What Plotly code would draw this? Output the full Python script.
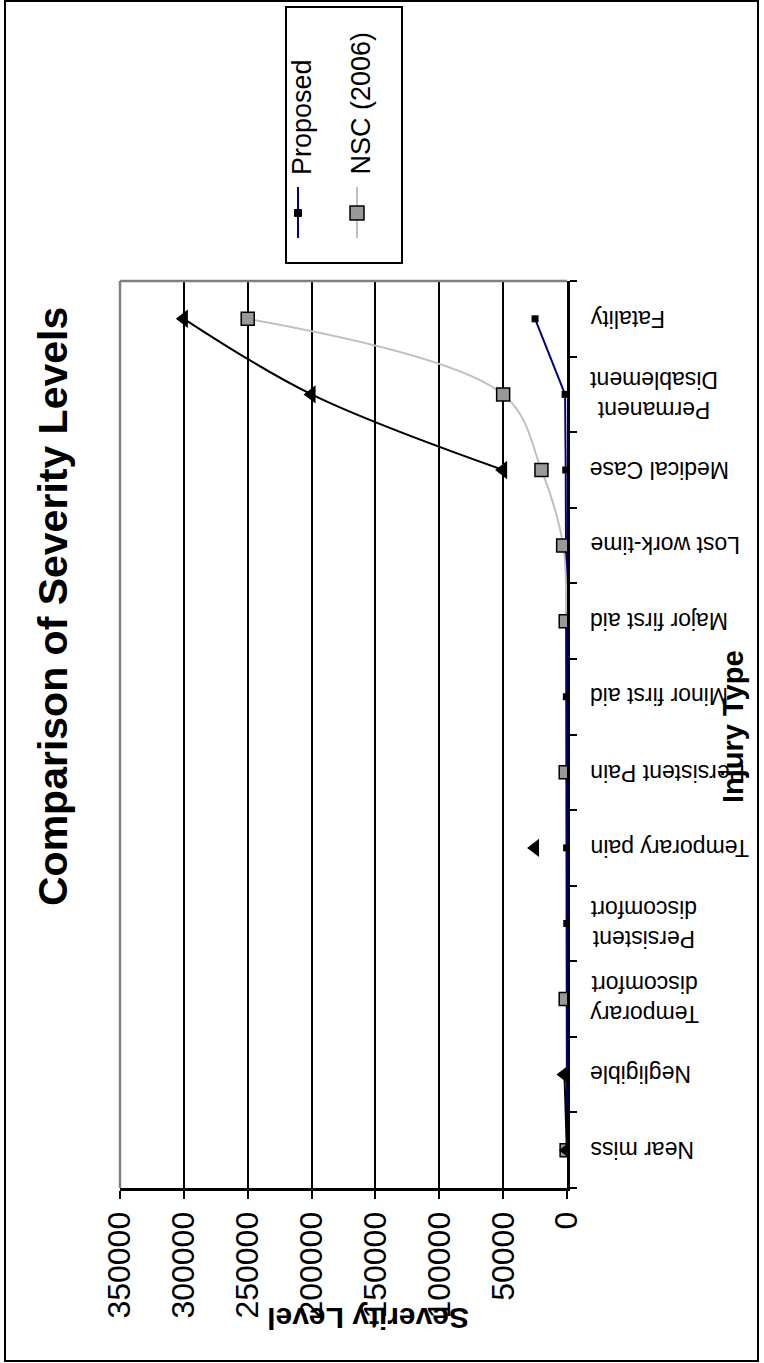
import plotly.graph_objects as go

# ---------------- data ----------------
categories = ["Near miss", "Negligible", "Temporary discomfort", "Persistent discomfort",
              "Temporary pain", "Persistent Pain", "Minor first aid", "Major first aid",
              "Lost work-time", "Medical Case", "Permanent Disablement", "Fatality"]
category_labels = ["Near miss", "Negligible", "Temporary<br>discomfort", "Persistent<br>discomfort",
                   "Temporary pain", "Persistent Pain", "Minor first aid", "Major first aid",
                   "Lost work-time", "Medical Case", "Permanent<br>Disablement", "Fatality"]
proposed = [10, 50, 100, 200, 300, 400, 500, 600, 800, 1000, 1500, 25000]
nsc_2006 = [300, None, 1000, None, None, 1000, None, 1000, 3000, 20000, 50000, 250000]
series3 = [100, 2000, None, None, 25000, None, None, None, None, 50000, 200000, 300000]
value_ticks = [0, 50000, 100000, 150000, 200000, 250000, 300000, 350000]

# ---------------- geometry helpers ----------------
W, H = 764, 1363
PL, PR, PT, PB = 120, 567, 281, 1188


def px(xp):
    return (xp - PL) / (PR - PL)


def py(yp):
    return (PB - yp) / (PB - PT)


FONT = "Liberation Sans, Arial, sans-serif"

fig = go.Figure()
fig.add_trace(go.Scatter(
    x=proposed, y=categories, mode="lines+markers", name="Proposed",
    line=dict(color="#000080", width=2),
    marker=dict(symbol="square", size=7, color="black"),
    showlegend=False))
fig.add_trace(go.Scatter(
    x=nsc_2006, y=categories, mode="lines+markers", name="NSC (2006)",
    line=dict(color="#C0C0C0", width=2, shape="spline"),
    marker=dict(symbol="square", size=13, color="#999999", line=dict(color="black", width=1.5)),
    showlegend=False))
fig.add_trace(go.Scatter(
    x=series3, y=categories, mode="lines+markers", name="Series 3",
    line=dict(color="black", width=2, shape="spline"),
    marker=dict(symbol="triangle-left", size=16, color="black"),
    showlegend=False))

annotations = []
# category labels (upside down, as in the reference)
for c, lab in zip(categories, category_labels):
    annotations.append(dict(x=px(588), xref="paper", y=c, yref="y", text=lab,
                            showarrow=False, textangle=180, xanchor="left", yanchor="middle",
                            align="center", font=dict(family=FONT, size=23, color="black")))
# title
annotations.append(dict(x=px(53), y=py(607), xref="paper", yref="paper",
                        text="<b>Comparison of Severity Levels</b>", showarrow=False,
                        xanchor="center", yanchor="middle",
                        textangle=-90, font=dict(family=FONT, size=41, color="black")))
# axis titles
annotations.append(dict(x=px(733), y=py(727), xref="paper", yref="paper",
                        text="<b>Injury Type</b>", showarrow=False,
                        xanchor="center", yanchor="middle",
                        textangle=-90, font=dict(family=FONT, size=29, color="black")))
annotations.append(dict(x=px(368), y=py(1319), xref="paper", yref="paper",
                        text="<b>Severity Level</b>", showarrow=False,
                        xanchor="center", yanchor="middle",
                        textangle=180, font=dict(family=FONT, size=30, color="black")))
# legend texts
annotations.append(dict(x=px(302), y=py(177), xref="paper", yref="paper", text="Proposed",
                        showarrow=False, textangle=-90, xanchor="center", yanchor="bottom",
                        font=dict(family=FONT, size=27, color="black")))
annotations.append(dict(x=px(360), y=py(177), xref="paper", yref="paper", text="NSC (2006)",
                        showarrow=False, textangle=-90, xanchor="center", yanchor="bottom",
                        font=dict(family=FONT, size=27, color="black")))

shapes = [
    # outer chart border
    dict(type="rect", xref="paper", yref="paper", x0=px(5), x1=px(758), y0=py(1361), y1=py(1),
         line=dict(color="black", width=2), layer="below"),
    # plot area border (top, left)
    dict(type="line", xref="paper", yref="paper", x0=0, x1=1, y0=1, y1=1,
         line=dict(color="#808080", width=2.5), layer="above"),
    dict(type="line", xref="paper", yref="paper", x0=0, x1=0, y0=0, y1=1,
         line=dict(color="#808080", width=2.5), layer="above"),
    # legend box
    dict(type="rect", xref="paper", yref="paper", x0=px(286), x1=px(402), y0=py(263), y1=py(7),
         line=dict(color="black", width=2), fillcolor="white", layer="above"),
    # legend: Proposed
    dict(type="line", xref="paper", yref="paper", x0=px(298), x1=px(298), y0=py(238), y1=py(187),
         line=dict(color="#000080", width=2), layer="above"),
    dict(type="rect", xref="paper", yref="paper", x0=px(294.5), x1=px(301.5), y0=py(216.5), y1=py(209.5),
         line=dict(color="black", width=1), fillcolor="black", layer="above"),
    # legend: NSC
    dict(type="line", xref="paper", yref="paper", x0=px(357), x1=px(357), y0=py(238), y1=py(187),
         line=dict(color="#C0C0C0", width=2), layer="above"),
    dict(type="rect", xref="paper", yref="paper", x0=px(350), x1=px(364), y0=py(220), y1=py(206),
         line=dict(color="black", width=1.5), fillcolor="#999999", layer="above"),
]

fig.update_layout(
    width=W, height=H,
    margin=dict(l=PL, r=W - PR, t=PT, b=H - PB, pad=0),
    paper_bgcolor="white", plot_bgcolor="white",
    showlegend=False,
    font=dict(family=FONT, color="black"),
    annotations=annotations, shapes=shapes,
    xaxis=dict(range=[350000, 0], tickmode="array", tickvals=value_ticks,
               ticktext=[str(v) for v in value_ticks], tickangle=-90,
               tickfont=dict(family=FONT, size=32, color="black"),
               ticks="outside", ticklen=8, tickwidth=2, tickcolor="black",
               ticklabelstandoff=0,
               showline=True, linecolor="black", linewidth=3,
               showgrid=True, gridcolor="black", gridwidth=1.5, zeroline=False),
    yaxis=dict(type="category", categoryorder="array", categoryarray=categories,
               range=[-0.5, 11.5], side="right",
               showline=True, linecolor="black", linewidth=2.5,
               ticks="outside", tickson="boundaries", ticklen=7, tickwidth=1.5, tickcolor="black",
               showticklabels=False, showgrid=False, zeroline=False),
)

fig.write_html("out.html", config={"displayModeBar": False},
               post_script="document.body.style.margin='0px';")
